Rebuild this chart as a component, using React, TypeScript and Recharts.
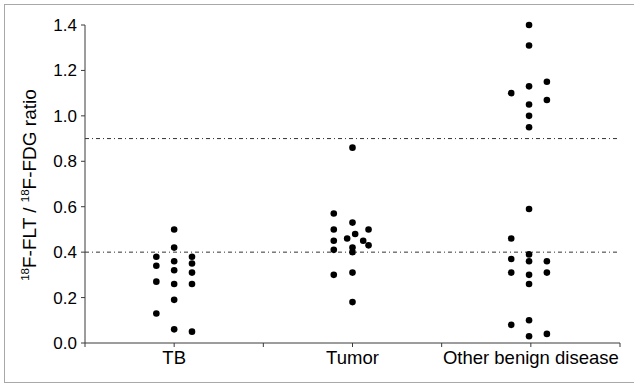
import React from 'react';
import { ScatterChart, Scatter, XAxis, YAxis, ReferenceLine } from 'recharts';

// Group category positions on the x scale and their labels
const groupCenters = [1, 3, 5];
const groupLabels = ['TB', 'Tumor', 'Other benign disease'];
const xTicks = [0, 1, 2, 3, 4, 5, 6];
const yTicks = [0, 0.2, 0.4, 0.6, 0.8, 1.0, 1.2, 1.4];
const thresholds = [0.9, 0.4];

// TB: ratio values and horizontal jitter (in category units)
const tbValues = [0.38, 0.34, 0.27, 0.13, 0.50, 0.42, 0.36, 0.32, 0.26, 0.19, 0.06, 0.38, 0.35, 0.31, 0.26, 0.05];
const tbJitter = [-0.2, -0.2, -0.2, -0.2, 0, 0, 0, 0, 0, 0, 0, 0.2, 0.2, 0.2, 0.2, 0.2];

// Tumor
const tumorValues = [0.86, 0.57, 0.53, 0.50, 0.50, 0.48, 0.45, 0.46, 0.45, 0.42, 0.43, 0.41, 0.40, 0.30, 0.31, 0.18];
const tumorJitter = [0, -0.21, 0, -0.21, 0.18, 0.03, -0.21, -0.06, 0.12, 0, 0.18, -0.21, 0, -0.21, 0, 0];

// Other benign disease
const otherValues = [1.40, 1.31, 1.13, 1.05, 1.00, 0.95, 0.59, 0.39, 0.36, 0.30, 0.26, 0.10, 0.03, 1.10, 0.46, 0.37, 0.31, 0.08, 1.15, 1.07, 0.36, 0.31, 0.04];
const otherJitter = [-0.02, -0.02, -0.02, -0.02, -0.02, -0.02, -0.02, -0.02, -0.02, -0.02, -0.02, -0.02, -0.02, -0.22, -0.22, -0.22, -0.22, -0.22, 0.18, 0.18, 0.18, 0.18, 0.18];

const build = (center: number, values: number[], jitter: number[]) =>
  values.map((v, i) => ({ x: center + jitter[i], y: v }));

const tbData = build(groupCenters[0], tbValues, tbJitter);
const tumorData = build(groupCenters[1], tumorValues, tumorJitter);
const otherData = build(groupCenters[2], otherValues, otherJitter);

const FONT = '"Liberation Sans", Arial, sans-serif';
const AXIS = '#3a3a3a';

const Dot = (props: any) => {
  const { cx, cy } = props;
  if (cx == null || cy == null) return null;
  return <circle cx={cx} cy={cy} r={3.3} fill="#000" />;
};

const xFmt = (v: number) => {
  const i = groupCenters.indexOf(v);
  return i >= 0 ? groupLabels[i] : '';
};

const YTitle = () => (
  <text
    x={36}
    y={185}
    transform="rotate(-90, 36, 185)"
    textAnchor="middle"
    fontFamily={FONT}
    fontSize={19}
    fill="#000"
  >
    <tspan fontSize={11.5} dy={-7}>18</tspan>
    <tspan dy={7}>F-FLT / </tspan>
    <tspan fontSize={11.5} dy={-7}>18</tspan>
    <tspan dy={7}>F-FDG ratio</tspan>
  </text>
);

export default function App() {
  return (
    <div style={{ position: 'absolute', left: 0, top: 0, width: 634, height: 388, overflow: 'hidden', background: '#fff' }}>
      <div
        style={{
          position: 'absolute',
          left: 4,
          top: 4,
          width: 660,
          height: 377,
          border: '1px solid #a8a8a8',
        }}
      />
      <div style={{ position: 'absolute', left: 0, top: 0 }}>
        <ScatterChart width={634} height={388} margin={{ top: 25, right: 14, bottom: 15, left: 0 }}>
          <XAxis
            type="number"
            dataKey="x"
            domain={[0, 6]}
            ticks={xTicks}
            tickFormatter={xFmt}
            interval={0}
            height={30}
            tickSize={4}
            tickMargin={4}
            stroke={AXIS}
            tick={{ fill: '#000', fontFamily: FONT, fontSize: 18.5 }}
            allowDataOverflow
          />
          <YAxis
            type="number"
            dataKey="y"
            domain={[0, 1.4]}
            ticks={yTicks}
            tickFormatter={(v: number) => v.toFixed(1)}
            interval={0}
            width={85}
            tickSize={4}
            tickMargin={4}
            stroke={AXIS}
            tick={{ fill: '#000', fontFamily: FONT, fontSize: 17 }}
            label={{ content: () => <YTitle /> }}
          />
          {thresholds.map((t) => (
            <ReferenceLine key={t} y={t} stroke="#333" strokeWidth={1} strokeDasharray="4 3 1 3" />
          ))}
          <Scatter data={tbData} shape={<Dot />} isAnimationActive={false} />
          <Scatter data={tumorData} shape={<Dot />} isAnimationActive={false} />
          <Scatter data={otherData} shape={<Dot />} isAnimationActive={false} />
        </ScatterChart>
      </div>
    </div>
  );
}
